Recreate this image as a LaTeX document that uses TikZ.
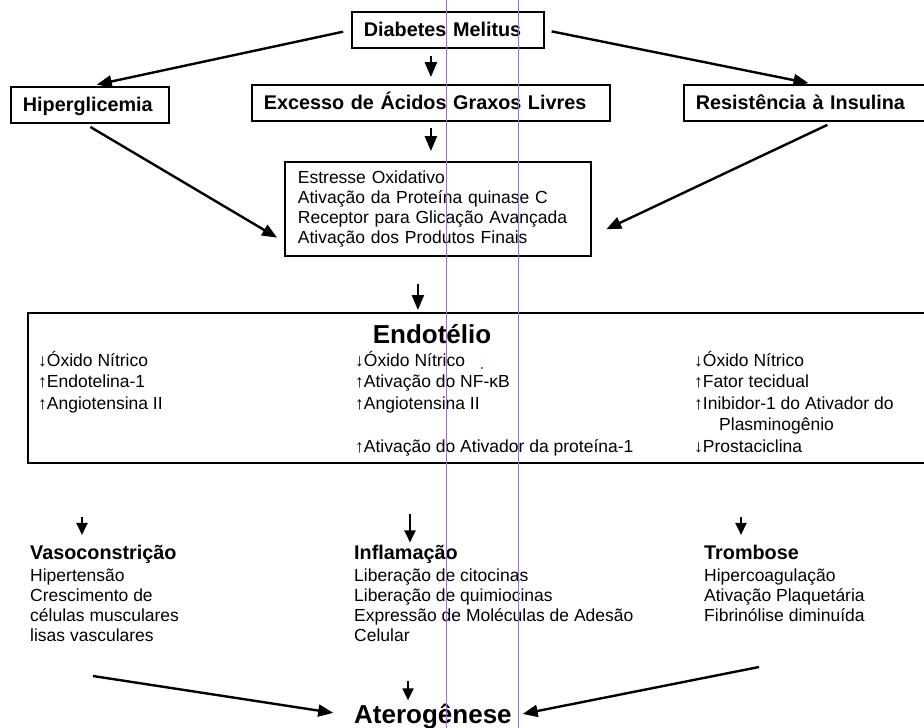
\documentclass[tikz,border=0pt]{standalone}
\usepackage{fontspec}
\setmainfont{Liberation Sans}
\usetikzlibrary{arrows.meta}
\begin{document}
\begin{tikzpicture}[x=1pt,y=-1pt,
  box/.style={draw,line width=1.8pt,anchor=west,align=left,inner xsep=12pt,inner ysep=0pt,
    text height=17pt,text depth=3.5pt,minimum height=36pt,font=\fontsize{19.8}{23}\selectfont\bfseries},
  mbox/.style={draw,line width=1.8pt,anchor=west,align=left,inner xsep=13pt,inner ysep=0pt,
    minimum height=94pt,font=\fontsize{17.5}{20}\selectfont},
  item/.style={anchor=base west,inner sep=0pt,font=\fontsize{17.5}{20}\selectfont},
  head/.style={anchor=base west,inner sep=0pt,font=\fontsize{19.8}{23}\selectfont\bfseries},
  big/.style={inner sep=0pt,font=\fontsize{26}{30}\selectfont\bfseries},
  arr/.style={line width=2.4pt,-{Triangle[length=15pt,width=12pt]}},
  sarr/.style={line width=2pt,-{Triangle[length=12pt,width=11pt]}},
  guide/.style={line width=1pt,color={rgb,255:red,165;green,100;blue,250}}]
\useasboundingbox (0,0) rectangle (924,728);
\clip (0,0) rectangle (924,728);
\fill[white] (0,0) rectangle (924,728);
\node[box,text width=168pt] (dm) at (351,30) {Diabetes Melitus};
\node[box,text width=134pt] (hip) at (10,105) {Hiperglicemia};
\node[box,text width=334pt] (exc) at (251,103) {Excesso de Ácidos Graxos Livres};
\node[box,text width=235pt] (res) at (683,103) {Resistência à Insulina};
\node[mbox,text width=280pt] (ox) at (284,209) {Estresse Oxidativo\\Ativação da Proteína quinase C\\Receptor para Glicação Avançada\\Ativação dos Produtos Finais};
\node[draw,line width=1.8pt,anchor=north west,inner sep=0pt,minimum width=910pt,minimum height=150pt] (endo) at (27,312) {};
\node[big,anchor=base] (endot) at (432,343) {Endotélio};
\foreach \x/\y/\t [count=\i] in {38/366/{↓Óxido Nítrico},38/387.5/{↑Endotelina-1},38/409/{↑Angiotensina II},
    355/366/{↓Óxido Nítrico},355/387.5/{↑Ativação do NF-κB},355/409/{↑Angiotensina II},355/452/{↑Ativação do Ativador da proteína-1},
    694/366/{↓Óxido Nítrico},694/387.5/{↑Fator tecidual},694/409/{↑Inibidor-1 do Ativador do},719/430.5/{Plasminogênio},694/452/{↓Prostaciclina}}
  \node[item] (e\i) at (\x,\y) {\t};
\node[head] (vaso) at (30,559) {Vasoconstrição};
\node[head] (infl) at (354,559) {Inflamação};
\node[head] (trom) at (704,559) {Trombose};
\foreach \x/\y/\t [count=\i] in {30/581/{Hipertensão},30/601/{Crescimento de},30/621/{células musculares},30/641/{lisas vasculares},
    354/581/{Liberação de citocinas},354/601/{Liberação de quimiocinas},354/621/{Expressão de Moléculas de Adesão},354/641/{Celular},
    704/581/{Hipercoagulação},704/601/{Ativação Plaquetária},704/621/{Fibrinólise diminuída}}
  \node[item] (b\i) at (\x,\y) {\t};
\node[big,anchor=base west] (ate) at (354,723) {Aterogênese};
\coordinate (oa) at ([xshift=-20pt]ox.south);
\coordinate (va) at (82,517);
\coordinate (ia) at (410,514);
\coordinate (ta) at (741,517);
\coordinate (ls) at (93,676);
\coordinate (rs) at (759,667);
\coordinate (ms) at (408,681);
\draw[arr,shorten <=8pt,shorten >=7pt] (dm.west) -- (hip.north);
\draw[arr,shorten <=7pt,shorten >=7pt] (dm.south -| exc.north) -- (exc.north);
\draw[arr,shorten <=7pt,shorten >=5pt] (dm.east) -- (res.north);
\draw[arr,shorten <=6pt,shorten >=8pt] (hip.256) -- (ox.192);
\draw[arr,shorten <=7pt,shorten >=16pt] (res.-43) -- (ox.-10);
\draw[arr,shorten <=6pt,shorten >=10pt] (exc.south) -- (exc.south |- ox.north);
\draw[arr,shorten <=27pt,shorten >=2pt] (oa) -- (oa |- endo.north);
\draw[sarr,shorten >=9.5pt] (va) -- (va |- vaso.north);
\draw[sarr,shorten >=2pt] (ia) -- (ia |- infl.north);
\draw[sarr,shorten >=9.5pt] (ta) -- (ta |- trom.north);
\draw[arr,shorten >=21pt] (ls) -- (ate.west);
\draw[arr,shorten >=11pt] (rs) -- (ate.east);
\draw[sarr,shorten >=3pt] (ms) -- (ms |- ate.north);
\draw[guide] (446,0) -- (446,728);
\draw[guide] (518,0) -- (518,728);
\fill[blue!60] (481,367) rectangle (483,369);
\end{tikzpicture}
\end{document}
